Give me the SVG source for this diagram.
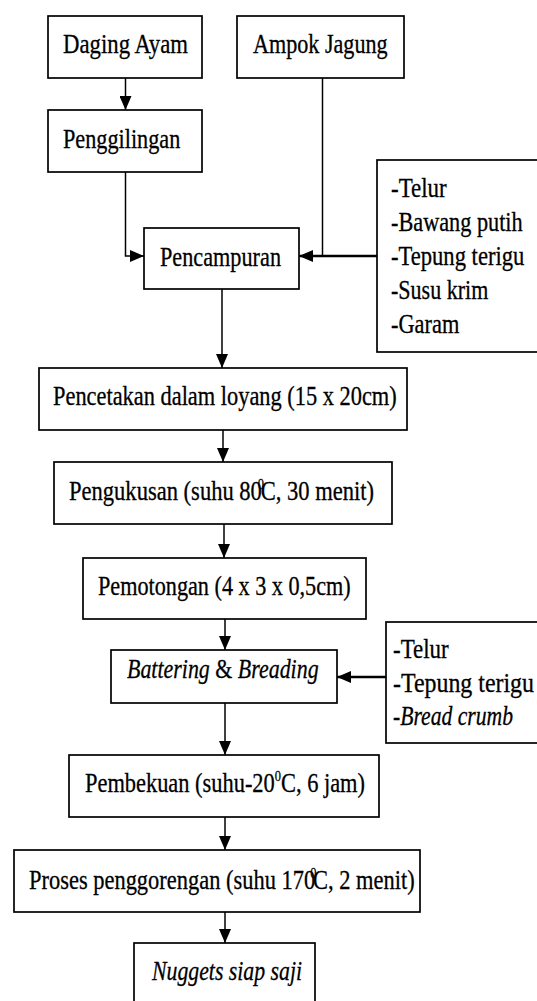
<svg xmlns="http://www.w3.org/2000/svg" width="537" height="1001" viewBox="0 0 537 1001">
<style>
.box{fill:#fff;stroke:#000;stroke-width:1.7}
text{font-family:'Liberation Serif','Times New Roman',Tinos,'DejaVu Serif',serif;font-size:27px;fill:#000;stroke:#000;stroke-width:0.3}
.i{font-style:italic}
.c{fill:none;stroke:#000;stroke-width:1.5}
.ct{fill:none;stroke:#000;stroke-width:2.6}
.sup{font-size:15px}
</style>
<defs>
<marker id="ah" markerUnits="userSpaceOnUse" markerWidth="14" markerHeight="12" refX="14" refY="6" orient="auto">
<path d="M0,0 L14,6 L0,12 z" fill="#000"/>
</marker>
</defs>
<rect width="537" height="1001" fill="#fff"/>
<g id="connectors">
<line class="c" x1="125.5" y1="78" x2="125.5" y2="110" marker-end="url(#ah)"/>
<path class="c" d="M125.5,172 V256 H144" marker-end="url(#ah)"/>
<line class="c" x1="322.5" y1="78" x2="322.5" y2="256"/>
<line class="ct" x1="377" y1="256" x2="299" y2="256" marker-end="url(#ah)"/>
<line class="c" x1="222" y1="289" x2="222" y2="368" marker-end="url(#ah)"/>
<line class="c" x1="223" y1="430" x2="223" y2="462" marker-end="url(#ah)"/>
<line class="c" x1="224" y1="524" x2="224" y2="558" marker-end="url(#ah)"/>
<line class="c" x1="225" y1="619" x2="225" y2="650" marker-end="url(#ah)"/>
<line class="ct" x1="386" y1="677" x2="337" y2="677" marker-end="url(#ah)"/>
<line class="c" x1="225" y1="703" x2="225" y2="755" marker-end="url(#ah)"/>
<line class="c" x1="225" y1="817" x2="225" y2="850" marker-end="url(#ah)"/>
<line class="c" x1="225" y1="912" x2="225" y2="943" marker-end="url(#ah)"/>
</g>
<g id="daging-ayam">
<rect class="box" x="48" y="16" width="154" height="62"/>
<text x="63" y="53" textLength="125" lengthAdjust="spacingAndGlyphs">Daging Ayam</text>
</g>
<g id="ampok-jagung">
<rect class="box" x="237" y="16" width="167" height="62"/>
<text x="253" y="53" textLength="134.6" lengthAdjust="spacingAndGlyphs">Ampok Jagung</text>
</g>
<g id="penggilingan">
<rect class="box" x="48" y="110" width="154" height="62"/>
<text x="63" y="148" textLength="117.3" lengthAdjust="spacingAndGlyphs">Penggilingan</text>
</g>
<g id="bahan-1">
<rect class="box" x="377" y="160" width="175" height="192"/>
<text x="391" y="197" textLength="55.7" lengthAdjust="spacingAndGlyphs">-Telur</text>
<text x="391" y="231" textLength="131.7" lengthAdjust="spacingAndGlyphs">-Bawang putih</text>
<text x="391" y="264.5" textLength="133.3" lengthAdjust="spacingAndGlyphs">-Tepung terigu</text>
<text x="391" y="298.5" textLength="97.3" lengthAdjust="spacingAndGlyphs">-Susu krim</text>
<text x="391" y="333" textLength="68.3" lengthAdjust="spacingAndGlyphs">-Garam</text>
</g>
<g id="pencampuran">
<rect class="box" x="144" y="228" width="155" height="61"/>
<text x="160" y="266" textLength="121" lengthAdjust="spacingAndGlyphs">Pencampuran</text>
</g>
<g id="pencetakan">
<rect class="box" x="39" y="368" width="368" height="62"/>
<text x="53" y="405" textLength="343.7" lengthAdjust="spacingAndGlyphs">Pencetakan dalam loyang (15 x 20cm)</text>
</g>
<g id="pengukusan">
<rect class="box" x="54" y="462" width="338" height="62"/>
<text x="69" y="500" textLength="305" lengthAdjust="spacingAndGlyphs">Pengukusan (suhu 80<tspan class="sup" dx="-5" dy="-11">0</tspan><tspan dx="-4" dy="11">C, 30 menit)</tspan></text>
</g>
<g id="pemotongan">
<rect class="box" x="83" y="558" width="283" height="61"/>
<text x="98" y="595" textLength="252.7" lengthAdjust="spacingAndGlyphs">Pemotongan (4 x 3 x 0,5cm)</text>
</g>
<g id="battering-breading">
<rect class="box" x="111" y="650" width="226" height="53"/>
<text x="127" y="678" textLength="191.6" lengthAdjust="spacingAndGlyphs"><tspan class="i">Battering</tspan> &amp; <tspan class="i">Breading</tspan></text>
</g>
<g id="bahan-2">
<rect class="box" x="386" y="622" width="166" height="121"/>
<text x="393" y="658" textLength="55.7" lengthAdjust="spacingAndGlyphs">-Telur</text>
<text x="393" y="691.5" textLength="141" lengthAdjust="spacingAndGlyphs">-Tepung terigu</text>
<text x="393" y="725" textLength="120" lengthAdjust="spacingAndGlyphs">-<tspan class="i">Bread crumb</tspan></text>
</g>
<g id="pembekuan">
<rect class="box" x="69" y="755" width="310" height="62"/>
<text x="85" y="792" textLength="280" lengthAdjust="spacingAndGlyphs">Pembekuan (suhu-20<tspan class="sup" dy="-11">0</tspan><tspan dy="11">C, 6 jam)</tspan></text>
</g>
<g id="penggorengan">
<rect class="box" x="14" y="850" width="406" height="62"/>
<text x="29" y="889" textLength="385.7" lengthAdjust="spacingAndGlyphs">Proses penggorengan (suhu 170<tspan class="sup" dx="-6" dy="-11">0</tspan><tspan dx="-4" dy="11">C, 2 menit)</tspan></text>
</g>
<g id="nuggets">
<rect class="box" x="134" y="943" width="181" height="75"/>
<text class="i" x="152" y="980" textLength="150" lengthAdjust="spacingAndGlyphs">Nuggets siap saji</text>
</g>
</svg>
